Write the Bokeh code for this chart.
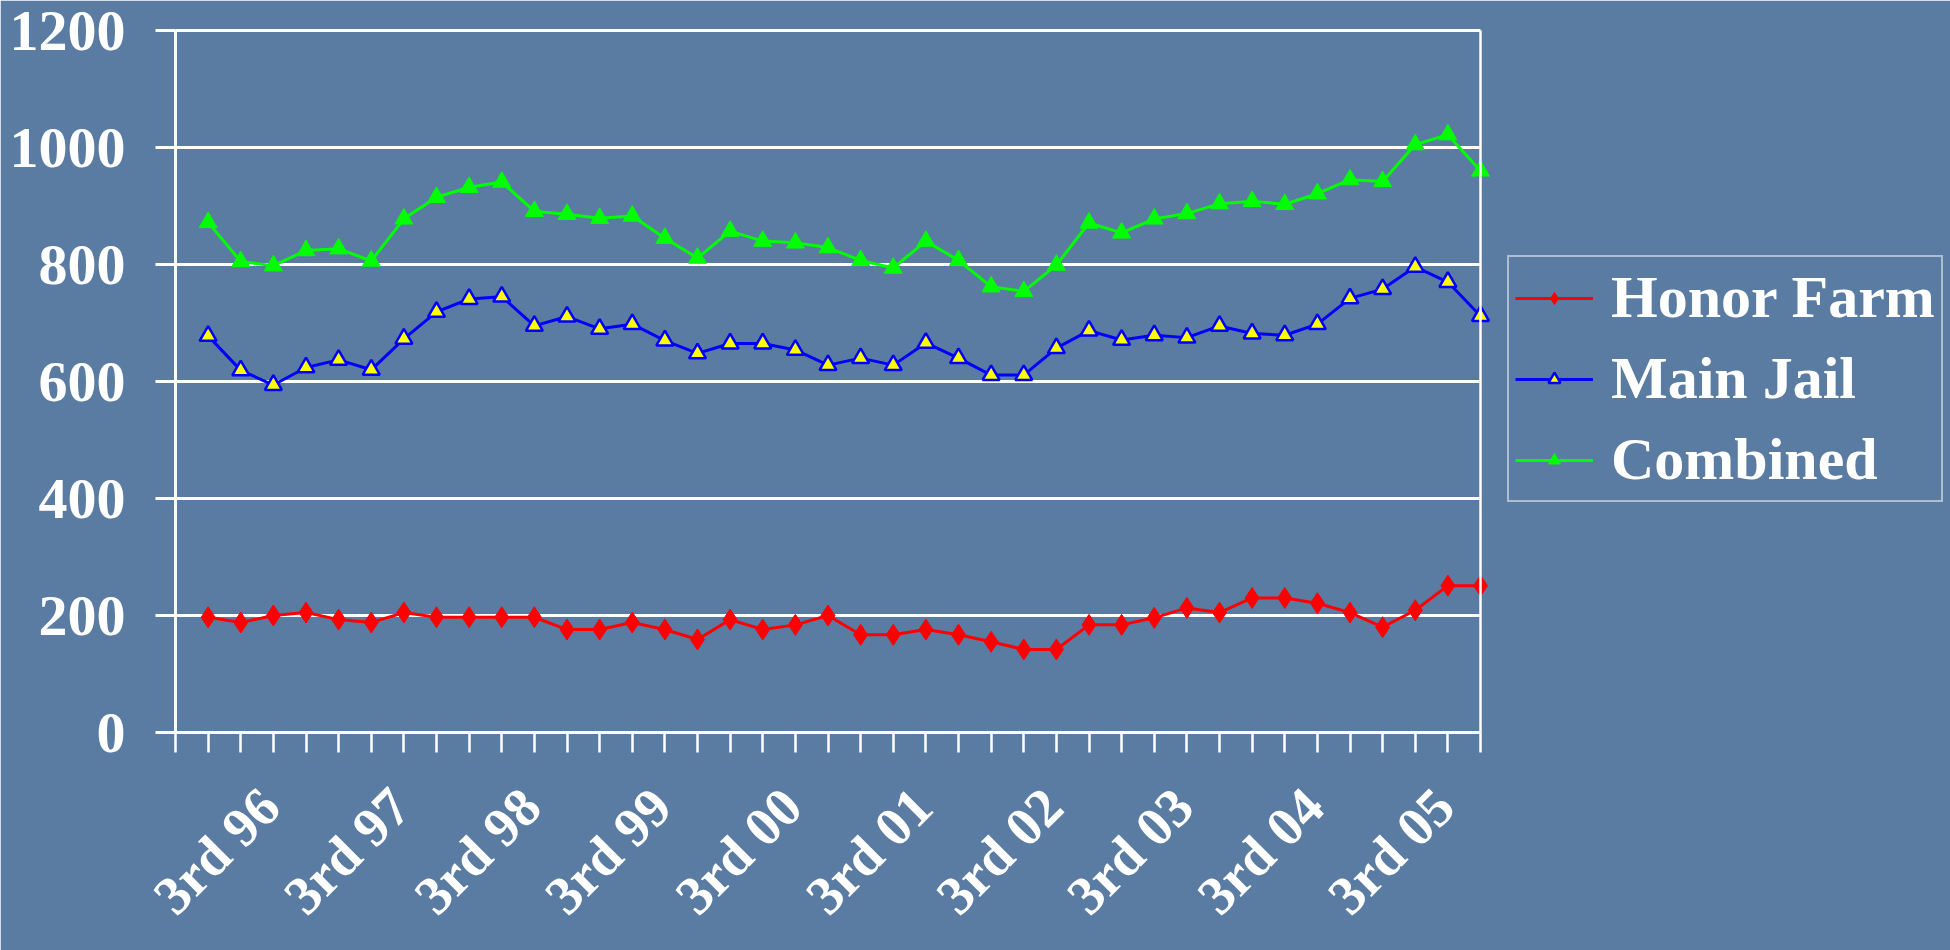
import math
from bokeh.plotting import figure
from bokeh.models import Range1d, FixedTicker, Legend, LegendItem, LinearAxis, Span
from bokeh.embed import file_html
from bokeh.resources import INLINE

# ---- data ----
quarter_index = list(range(1, 41))  # 4th 95 ... 3rd 05
honor_farm = [197, 188, 200, 205, 193, 188, 205, 197, 197, 197,
              197, 176, 176, 188, 176, 159, 193, 176, 184, 200,
              167, 167, 176, 167, 155, 142, 142, 184, 184, 196,
              213, 205, 230, 230, 221, 205, 180, 209, 251, 251]
main_jail = [678, 619, 594, 624, 637, 620, 673, 719, 741, 745,
             695, 711, 690, 698, 670, 648, 665, 665, 654, 628,
             640, 628, 666, 640, 611, 611, 657, 687, 671, 679,
             675, 695, 682, 679, 698, 742, 758, 796, 770, 712]
combined = [872, 805, 798, 824, 827, 806, 878, 915, 932, 941,
            891, 886, 879, 883, 845, 811, 857, 840, 837, 829,
            807, 794, 840, 807, 762, 754, 799, 871, 854, 878,
            887, 904, 908, 903, 921, 945, 942, 1005, 1022, 960]
tick_quarters = [4, 8, 12, 16, 20, 24, 28, 32, 36, 40]
tick_labels = ["3rd 96", "3rd 97", "3rd 98", "3rd 99", "3rd 00",
               "3rd 01", "3rd 02", "3rd 03", "3rd 04", "3rd 05"]
y_ticks = [0, 200, 400, 600, 800, 1000, 1200]
series_names = ["Honor Farm", "Main Jail", "Combined"]

# ---- layout / style ----
BG = "#5A7CA2"
FONT = "Liberation Serif"
W, H = 1950, 950
LEFT, TOP, BOTTOM = 175, 30, 218
PLOT_PX = 1305                      # width of the boxed plot area
FRAME_PX = W - LEFT                 # frame runs to the right edge (legend lives there)
X_START, X_END = 0, 40
X_VIEW_END = X_START + (X_END - X_START) * FRAME_PX / PLOT_PX
LABEL_SHIFT = 1.1                   # slanted labels sit a little left of their tick
SEAM_GAP = 0.05


def bare_axis(**kw):
    ax = LinearAxis(ticker=FixedTicker(ticks=[]), **kw)
    ax.major_tick_line_color = None
    ax.minor_tick_line_color = None
    ax.major_tick_out = 0
    ax.major_tick_in = 0
    ax.minor_tick_out = 0
    ax.minor_tick_in = 0
    ax.major_label_standoff = 0
    return ax


p = figure(width=W, height=H, output_backend="svg", toolbar_location=None,
           x_range=Range1d(X_START, X_VIEW_END), y_range=Range1d(y_ticks[0], y_ticks[-1]),
           min_border_left=LEFT, min_border_right=0,
           min_border_top=TOP, min_border_bottom=BOTTOM)
p.extra_x_ranges = {"labels": Range1d(X_START + LABEL_SHIFT, X_VIEW_END + LABEL_SHIFT)}
p.border_fill_color = BG
p.background_fill_color = BG
p.outline_line_color = None

# default axes, configured before any extra axis is added
xa = p.xaxis[0]
ya = p.yaxis[0]

p.xgrid.visible = False
p.ygrid.ticker = FixedTicker(ticks=y_ticks[1:-1])
p.ygrid.grid_line_color = "white"
p.ygrid.grid_line_width = 3
p.ygrid.cross_bounds = (X_START, X_END)

ya.ticker = FixedTicker(ticks=y_ticks)
ya.axis_line_color = "white"
ya.axis_line_width = 3
ya.major_tick_line_color = "white"
ya.major_tick_line_width = 3
ya.major_tick_out = 20
ya.major_tick_in = 0
ya.minor_tick_line_color = None
ya.major_label_text_font = FONT
ya.major_label_text_font_style = "bold"
ya.major_label_text_font_size = "58px"
ya.major_label_text_color = "white"
ya.major_label_standoff = 30

# tick marks along the category axis
xa.ticker = FixedTicker(ticks=[], minor_ticks=[X_START] + quarter_index)
xa.bounds = (X_START, X_END)
xa.axis_line_color = "white"
xa.axis_line_width = 3
xa.major_tick_out = 0
xa.major_tick_in = 0
xa.minor_tick_line_color = "white"
xa.minor_tick_line_width = 2.5
xa.minor_tick_out = 0
xa.minor_tick_in = -20
xa.major_label_standoff = 0

# slanted category labels (its own line, in the background colour, hides the frame seam)
lab_axis = LinearAxis(x_range_name="labels",
                      ticker=FixedTicker(ticks=tick_quarters),
                      major_label_overrides={q: l for q, l in zip(tick_quarters, tick_labels)})
lab_axis.bounds = (X_END + LABEL_SHIFT + SEAM_GAP, X_VIEW_END + LABEL_SHIFT)
lab_axis.axis_line_color = BG
lab_axis.axis_line_width = 3
lab_axis.major_tick_line_color = None
lab_axis.minor_tick_line_color = None
lab_axis.major_tick_out = 0
lab_axis.major_tick_in = 0
lab_axis.minor_tick_out = 0
lab_axis.minor_tick_in = 0
lab_axis.major_label_orientation = math.pi / 4
lab_axis.major_label_text_font = FONT
lab_axis.major_label_text_font_style = "bold"
lab_axis.major_label_text_font_size = "55px"
lab_axis.major_label_text_color = "white"
lab_axis.major_label_standoff = 65
p.add_layout(lab_axis, "below")

# top border of the plot box
top_axis = bare_axis()
top_axis.bounds = (X_START, X_END)
top_axis.axis_line_color = "white"
top_axis.axis_line_width = 3
p.add_layout(top_axis, "above")

# hide the frame seam to the right of the plot box
top_cover = bare_axis()
top_cover.bounds = (X_END + SEAM_GAP, X_VIEW_END)
top_cover.axis_line_color = BG
top_cover.axis_line_width = 3
p.add_layout(top_cover, "above")

# right-hand border of the plot box
p.add_layout(Span(location=X_END, dimension="height", line_color="white", line_width=2.5))

l1 = p.line(quarter_index, honor_farm, line_color="#FF0000", line_width=3)
s1 = p.scatter(quarter_index, honor_farm, marker="diamond", size=21,
               fill_color="#FF0000", line_color="#FF0000", line_width=1)
l2 = p.line(quarter_index, main_jail, line_color="#0000FF", line_width=3)
s2 = p.scatter(quarter_index, main_jail, marker="triangle", size=17,
               fill_color="#FFFF00", line_color="#0000FF", line_width=2.5)
l3 = p.line(quarter_index, combined, line_color="#00FF00", line_width=3)
s3 = p.scatter(quarter_index, combined, marker="triangle", size=18,
               fill_color="#00FF00", line_color="#00FF00", line_width=1)

legend = Legend(items=[LegendItem(label=series_names[0], renderers=[l1, s1]),
                       LegendItem(label=series_names[1], renderers=[l2, s2]),
                       LegendItem(label=series_names[2], renderers=[l3, s3])],
                location=(1332, 230))
legend.background_fill_alpha = 0
legend.border_line_color = "white"
legend.border_line_width = 2.5
legend.label_text_font = FONT
legend.label_text_font_style = "bold"
legend.label_text_font_size = "60px"
legend.label_text_color = "white"
legend.glyph_width = 78
legend.glyph_height = 30
legend.label_standoff = 18
legend.padding = 6
legend.spacing = 12
legend.margin = 0
p.add_layout(legend)

open("out.html", "w").write(file_html(p, INLINE))
